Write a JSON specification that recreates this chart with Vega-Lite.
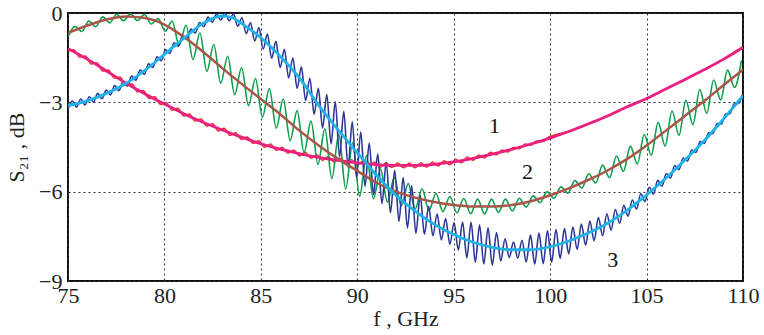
{
"$schema":"https://vega.github.io/schema/vega-lite/v6.json",
"width":675,"height":268,
"autosize":{"type":"none"},
"padding":{"left":68,"top":13,"right":21,"bottom":54},
"background":"white",
"config":{"view":{"stroke":"#111","strokeWidth":2}},
"datasets":{
"red":[{"f":75.0,"v":-1.28},{"f":75.3,"v":-1.23},{"f":75.6,"v":-1.49},{"f":75.9,"v":-1.44},{"f":76.2,"v":-1.71},{"f":76.5,"v":-1.67},{"f":76.8,"v":-1.95},{"f":77.1,"v":-1.91},{"f":77.4,"v":-2.19},{"f":77.7,"v":-2.15},{"f":78.0,"v":-2.43},{"f":78.3,"v":-2.38},{"f":78.6,"v":-2.65},{"f":78.9,"v":-2.60},{"f":79.2,"v":-2.87},{"f":79.5,"v":-2.81},{"f":79.8,"v":-3.07},{"f":80.1,"v":-3.01},{"f":80.4,"v":-3.27},{"f":80.7,"v":-3.20},{"f":81.0,"v":-3.46},{"f":81.3,"v":-3.39},{"f":81.6,"v":-3.63},{"f":81.9,"v":-3.56},{"f":82.2,"v":-3.80},{"f":82.5,"v":-3.72},{"f":82.8,"v":-3.96},{"f":83.1,"v":-3.87},{"f":83.4,"v":-4.11},{"f":83.7,"v":-4.02},{"f":84.0,"v":-4.25},{"f":84.3,"v":-4.16},{"f":84.6,"v":-4.38},{"f":84.9,"v":-4.29},{"f":85.2,"v":-4.51},{"f":85.5,"v":-4.40},{"f":85.8,"v":-4.61},{"f":86.1,"v":-4.51},{"f":86.4,"v":-4.71},{"f":86.7,"v":-4.60},{"f":87.0,"v":-4.80},{"f":87.3,"v":-4.68},{"f":87.6,"v":-4.88},{"f":87.9,"v":-4.76},{"f":88.2,"v":-4.95},{"f":88.5,"v":-4.82},{"f":88.8,"v":-5.01},{"f":89.1,"v":-4.88},{"f":89.4,"v":-5.06},{"f":89.7,"v":-4.93},{"f":90.0,"v":-5.11},{"f":90.3,"v":-4.97},{"f":90.6,"v":-5.15},{"f":90.9,"v":-5.00},{"f":91.2,"v":-5.18},{"f":91.5,"v":-5.03},{"f":91.8,"v":-5.19},{"f":92.1,"v":-5.04},{"f":92.4,"v":-5.20},{"f":92.7,"v":-5.04},{"f":93.0,"v":-5.20},{"f":93.3,"v":-5.03},{"f":93.6,"v":-5.18},{"f":93.9,"v":-5.00},{"f":94.2,"v":-5.14},{"f":94.5,"v":-4.96},{"f":94.8,"v":-5.10},{"f":95.1,"v":-4.91},{"f":95.4,"v":-5.03},{"f":95.7,"v":-4.84},{"f":96.0,"v":-4.95},{"f":96.3,"v":-4.77},{"f":96.6,"v":-4.87},{"f":96.9,"v":-4.68},{"f":97.2,"v":-4.77},{"f":97.5,"v":-4.60},{"f":97.8,"v":-4.67},{"f":98.1,"v":-4.51},{"f":98.4,"v":-4.56},{"f":98.7,"v":-4.40},{"f":99.0,"v":-4.44},{"f":99.3,"v":-4.30},{"f":99.6,"v":-4.32},{"f":99.9,"v":-4.18},{"f":101,"v":-3.97},{"f":102,"v":-3.72},{"f":103,"v":-3.45},{"f":104,"v":-3.15},{"f":105,"v":-2.87},{"f":106,"v":-2.55},{"f":107,"v":-2.23},{"f":108,"v":-1.90},{"f":109,"v":-1.55},{"f":110,"v":-1.15}],
"green":[{"f":75.00,"v":-0.80},{"f":75.36,"v":-0.45},{"f":75.72,"v":-0.62},{"f":76.08,"v":-0.27},{"f":76.44,"v":-0.46},{"f":76.80,"v":-0.13},{"f":77.16,"v":-0.33},{"f":77.52,"v":-0.04},{"f":77.88,"v":-0.26},{"f":78.24,"v":-0.03},{"f":78.60,"v":-0.25},{"f":78.96,"v":-0.05},{"f":79.32,"v":-0.37},{"f":79.68,"v":-0.19},{"f":80.04,"v":-0.61},{"f":80.40,"v":-0.27},{"f":80.76,"v":-1.08},{"f":81.12,"v":-0.41},{"f":81.48,"v":-1.56},{"f":81.84,"v":-0.67},{"f":82.20,"v":-1.96},{"f":82.56,"v":-1.06},{"f":82.92,"v":-2.36},{"f":83.28,"v":-1.45},{"f":83.64,"v":-2.74},{"f":84.00,"v":-1.83},{"f":84.36,"v":-3.11},{"f":84.72,"v":-2.20},{"f":85.08,"v":-3.50},{"f":85.44,"v":-2.54},{"f":85.80,"v":-3.87},{"f":86.16,"v":-2.89},{"f":86.52,"v":-4.29},{"f":86.88,"v":-3.28},{"f":87.24,"v":-4.69},{"f":87.60,"v":-3.63},{"f":87.96,"v":-5.08},{"f":88.32,"v":-3.89},{"f":88.68,"v":-5.56},{"f":89.04,"v":-4.07},{"f":89.40,"v":-5.91},{"f":89.76,"v":-4.35},{"f":90.12,"v":-6.15},{"f":90.48,"v":-4.79},{"f":90.84,"v":-6.24},{"f":91.20,"v":-5.24},{"f":91.56,"v":-6.35},{"f":91.92,"v":-5.53},{"f":92.28,"v":-6.48},{"f":92.64,"v":-5.73},{"f":93.00,"v":-6.58},{"f":93.36,"v":-5.90},{"f":93.72,"v":-6.63},{"f":94.08,"v":-6.06},{"f":94.44,"v":-6.67},{"f":94.80,"v":-6.16},{"f":95.16,"v":-6.71},{"f":95.52,"v":-6.23},{"f":95.88,"v":-6.74},{"f":96.24,"v":-6.25},{"f":96.60,"v":-6.75},{"f":96.96,"v":-6.25},{"f":97.32,"v":-6.70},{"f":97.68,"v":-6.25},{"f":98.04,"v":-6.65},{"f":98.40,"v":-6.22},{"f":98.76,"v":-6.52},{"f":99.12,"v":-6.14},{"f":99.48,"v":-6.37},{"f":99.84,"v":-6.00},{"f":100.20,"v":-6.22},{"f":100.56,"v":-5.84},{"f":100.92,"v":-6.05},{"f":101.28,"v":-5.63},{"f":101.64,"v":-5.88},{"f":102.00,"v":-5.40},{"f":102.36,"v":-5.71},{"f":102.72,"v":-5.11},{"f":103.08,"v":-5.53},{"f":103.44,"v":-4.80},{"f":103.80,"v":-5.32},{"f":104.16,"v":-4.47},{"f":104.52,"v":-5.07},{"f":104.88,"v":-4.08},{"f":105.24,"v":-4.78},{"f":105.60,"v":-3.67},{"f":105.96,"v":-4.47},{"f":106.32,"v":-3.29},{"f":106.68,"v":-4.11},{"f":107.04,"v":-2.93},{"f":107.40,"v":-3.75},{"f":107.76,"v":-2.57},{"f":108.12,"v":-3.37},{"f":108.48,"v":-2.25},{"f":108.84,"v":-2.92},{"f":109.20,"v":-1.92},{"f":109.56,"v":-2.50},{"f":109.92,"v":-1.59}],
"blue":[{"f":75.00,"v":-3.23},{"f":75.22,"v":-2.96},{"f":75.44,"v":-3.16},{"f":75.66,"v":-2.89},{"f":75.88,"v":-3.09},{"f":76.10,"v":-2.81},{"f":76.32,"v":-2.99},{"f":76.54,"v":-2.70},{"f":76.76,"v":-2.88},{"f":76.98,"v":-2.59},{"f":77.20,"v":-2.75},{"f":77.42,"v":-2.44},{"f":77.64,"v":-2.61},{"f":77.86,"v":-2.30},{"f":78.08,"v":-2.45},{"f":78.30,"v":-2.12},{"f":78.52,"v":-2.26},{"f":78.74,"v":-1.92},{"f":78.96,"v":-2.06},{"f":79.18,"v":-1.71},{"f":79.40,"v":-1.83},{"f":79.62,"v":-1.47},{"f":79.84,"v":-1.60},{"f":80.06,"v":-1.24},{"f":80.28,"v":-1.36},{"f":80.50,"v":-1.00},{"f":80.72,"v":-1.12},{"f":80.94,"v":-0.76},{"f":81.16,"v":-0.89},{"f":81.38,"v":-0.54},{"f":81.60,"v":-0.67},{"f":81.82,"v":-0.32},{"f":82.04,"v":-0.46},{"f":82.26,"v":-0.14},{"f":82.48,"v":-0.31},{"f":82.70,"v":-0.03},{"f":82.92,"v":-0.23},{"f":83.14,"v":-0.01},{"f":83.36,"v":-0.26},{"f":83.58,"v":-0.03},{"f":83.80,"v":-0.45},{"f":84.02,"v":-0.16},{"f":84.24,"v":-0.69},{"f":84.46,"v":-0.33},{"f":84.68,"v":-0.94},{"f":84.90,"v":-0.49},{"f":85.12,"v":-1.21},{"f":85.34,"v":-0.71},{"f":85.56,"v":-1.52},{"f":85.78,"v":-0.95},{"f":86.00,"v":-1.83},{"f":86.22,"v":-1.22},{"f":86.44,"v":-2.18},{"f":86.66,"v":-1.51},{"f":86.88,"v":-2.53},{"f":87.10,"v":-1.81},{"f":87.32,"v":-2.94},{"f":87.54,"v":-2.19},{"f":87.76,"v":-3.40},{"f":87.98,"v":-2.53},{"f":88.20,"v":-3.86},{"f":88.42,"v":-2.74},{"f":88.64,"v":-4.40},{"f":88.86,"v":-2.98},{"f":89.08,"v":-4.83},{"f":89.30,"v":-3.30},{"f":89.52,"v":-5.18},{"f":89.74,"v":-3.65},{"f":89.96,"v":-5.52},{"f":90.18,"v":-4.00},{"f":90.40,"v":-5.82},{"f":90.62,"v":-4.37},{"f":90.84,"v":-6.10},{"f":91.06,"v":-4.74},{"f":91.28,"v":-6.40},{"f":91.50,"v":-5.02},{"f":91.72,"v":-6.71},{"f":91.94,"v":-5.28},{"f":92.16,"v":-7.00},{"f":92.38,"v":-5.53},{"f":92.60,"v":-7.22},{"f":92.82,"v":-5.80},{"f":93.04,"v":-7.40},{"f":93.26,"v":-6.12},{"f":93.48,"v":-7.43},{"f":93.70,"v":-6.49},{"f":93.92,"v":-7.48},{"f":94.14,"v":-6.75},{"f":94.36,"v":-7.62},{"f":94.58,"v":-6.90},{"f":94.80,"v":-7.77},{"f":95.02,"v":-7.04},{"f":95.24,"v":-7.96},{"f":95.46,"v":-7.02},{"f":95.68,"v":-8.22},{"f":95.90,"v":-7.03},{"f":96.12,"v":-8.37},{"f":96.34,"v":-7.12},{"f":96.56,"v":-8.43},{"f":96.78,"v":-7.21},{"f":97.00,"v":-8.47},{"f":97.22,"v":-7.37},{"f":97.44,"v":-8.33},{"f":97.66,"v":-7.58},{"f":97.88,"v":-8.21},{"f":98.10,"v":-7.69},{"f":98.32,"v":-8.23},{"f":98.54,"v":-7.63},{"f":98.76,"v":-8.36},{"f":98.98,"v":-7.45},{"f":99.20,"v":-8.44},{"f":99.42,"v":-7.39},{"f":99.64,"v":-8.42},{"f":99.86,"v":-7.31},{"f":100.08,"v":-8.37},{"f":100.30,"v":-7.27},{"f":100.52,"v":-8.24},{"f":100.74,"v":-7.24},{"f":100.96,"v":-8.09},{"f":101.18,"v":-7.19},{"f":101.40,"v":-7.94},{"f":101.62,"v":-7.09},{"f":101.84,"v":-7.80},{"f":102.06,"v":-6.99},{"f":102.28,"v":-7.65},{"f":102.50,"v":-6.87},{"f":102.72,"v":-7.48},{"f":102.94,"v":-6.74},{"f":103.16,"v":-7.29},{"f":103.38,"v":-6.60},{"f":103.60,"v":-7.06},{"f":103.82,"v":-6.46},{"f":104.04,"v":-6.82},{"f":104.26,"v":-6.28},{"f":104.48,"v":-6.58},{"f":104.70,"v":-6.07},{"f":104.92,"v":-6.33},{"f":105.14,"v":-5.85},{"f":105.36,"v":-6.08},{"f":105.58,"v":-5.62},{"f":105.80,"v":-5.82},{"f":106.02,"v":-5.39},{"f":106.24,"v":-5.54},{"f":106.46,"v":-5.12},{"f":106.68,"v":-5.26},{"f":106.90,"v":-4.87},{"f":107.12,"v":-4.97},{"f":107.34,"v":-4.60},{"f":107.56,"v":-4.68},{"f":107.78,"v":-4.32},{"f":108.00,"v":-4.38},{"f":108.22,"v":-4.02},{"f":108.44,"v":-4.05},{"f":108.66,"v":-3.71},{"f":108.88,"v":-3.73},{"f":109.10,"v":-3.39},{"f":109.32,"v":-3.38},{"f":109.54,"v":-3.05},{"f":109.76,"v":-3.04},{"f":109.98,"v":-2.72}],
"pink":[{"f":75,"v":-1.20},{"f":76,"v":-1.55},{"f":77,"v":-1.95},{"f":78,"v":-2.35},{"f":79,"v":-2.72},{"f":80,"v":-3.06},{"f":81,"v":-3.38},{"f":82,"v":-3.67},{"f":83,"v":-3.93},{"f":84,"v":-4.17},{"f":85,"v":-4.39},{"f":86,"v":-4.57},{"f":87,"v":-4.72},{"f":88,"v":-4.85},{"f":89,"v":-4.95},{"f":90,"v":-5.03},{"f":91,"v":-5.09},{"f":92,"v":-5.12},{"f":93,"v":-5.12},{"f":94,"v":-5.08},{"f":95,"v":-5.00},{"f":96,"v":-4.88},{"f":97,"v":-4.74},{"f":98,"v":-4.58},{"f":99,"v":-4.40},{"f":100,"v":-4.20},{"f":101,"v":-3.97},{"f":102,"v":-3.72},{"f":103,"v":-3.45},{"f":104,"v":-3.15},{"f":105,"v":-2.87},{"f":106,"v":-2.55},{"f":107,"v":-2.23},{"f":108,"v":-1.90},{"f":109,"v":-1.55},{"f":110,"v":-1.15}],
"brown":[{"f":75,"v":-0.67},{"f":76,"v":-0.42},{"f":77,"v":-0.22},{"f":78,"v":-0.12},{"f":79,"v":-0.17},{"f":80,"v":-0.39},{"f":81,"v":-0.80},{"f":82,"v":-1.30},{"f":83,"v":-1.85},{"f":84,"v":-2.38},{"f":85,"v":-2.89},{"f":86,"v":-3.40},{"f":87,"v":-3.95},{"f":88,"v":-4.45},{"f":89,"v":-4.90},{"f":90,"v":-5.30},{"f":91,"v":-5.70},{"f":92,"v":-6.00},{"f":93,"v":-6.20},{"f":94,"v":-6.35},{"f":95,"v":-6.45},{"f":96,"v":-6.50},{"f":97,"v":-6.50},{"f":98,"v":-6.45},{"f":99,"v":-6.32},{"f":100,"v":-6.12},{"f":101,"v":-5.88},{"f":102,"v":-5.60},{"f":103,"v":-5.28},{"f":104,"v":-4.90},{"f":105,"v":-4.45},{"f":106,"v":-3.95},{"f":107,"v":-3.45},{"f":108,"v":-2.95},{"f":109,"v":-2.42},{"f":110,"v":-1.90}],
"cyan":[{"f":75,"v":-3.11},{"f":76,"v":-2.95},{"f":77,"v":-2.70},{"f":78,"v":-2.37},{"f":79,"v":-1.92},{"f":80,"v":-1.39},{"f":81,"v":-0.85},{"f":82,"v":-0.35},{"f":82.5,"v":-0.18},{"f":83,"v":-0.10},{"f":83.5,"v":-0.15},{"f":84,"v":-0.35},{"f":85,"v":-0.83},{"f":86,"v":-1.45},{"f":87,"v":-2.18},{"f":88,"v":-3.10},{"f":89,"v":-3.92},{"f":90,"v":-4.70},{"f":91,"v":-5.45},{"f":92,"v":-6.12},{"f":93,"v":-6.65},{"f":94,"v":-7.10},{"f":95,"v":-7.44},{"f":96,"v":-7.70},{"f":97,"v":-7.87},{"f":98,"v":-7.95},{"f":99,"v":-7.95},{"f":100,"v":-7.85},{"f":101,"v":-7.65},{"f":102,"v":-7.38},{"f":103,"v":-7.05},{"f":104,"v":-6.62},{"f":105,"v":-6.11},{"f":106,"v":-5.55},{"f":107,"v":-4.93},{"f":108,"v":-4.28},{"f":109,"v":-3.55},{"f":110,"v":-2.78}],
"labels":[{"f":97.12,"v":-3.78,"t":"1"},{"f":98.83,"v":-5.34,"t":"2"},{"f":103.24,"v":-8.28,"t":"3"}]
},
"encoding":{
 "x":{"field":"f","type":"quantitative","scale":{"domain":[75,110],"nice":false,"zero":false},"axis":{"values":[75,80,85,90,95,100,105,110],"title":"f ,  GHz","labelFont":"Liberation Serif","titleFont":"Liberation Serif","labelFontSize":22,"titleFontSize":22,"titleFontWeight":"normal","labelColor":"#222","titleColor":"#222","domain":false,"ticks":false,"grid":true,"gridColor":"#333","gridDash":[2,3],"gridWidth":1,"gridOpacity":1,"labelPadding":4,"titlePadding":2,"labelFlush":false,"labelDx":2}},
 "y":{"field":"v","type":"quantitative","scale":{"domain":[-9,0],"nice":false,"zero":false},"axis":{"values":[-9,-6,-3,0],"title":"S₂₁ ,  dB","labelFont":"Liberation Serif","titleFont":"Liberation Serif","labelFontSize":22,"titleFontSize":22,"titleFontWeight":"normal","labelColor":"#222","titleColor":"#222","domain":false,"ticks":false,"grid":true,"gridColor":"#333","gridDash":[2,3],"gridWidth":1,"gridOpacity":1,"labelPadding":6,"titlePadding":10,"labelFlush":false}}
},
"layer":[
 {"data":{"name":"red"},"mark":{"type":"line","color":"#e8352a","strokeWidth":1.5,"interpolate":"monotone","clip":true}},
 {"data":{"name":"green"},"mark":{"type":"line","color":"#0c9e4a","strokeWidth":1.6,"interpolate":"monotone","clip":true}},
 {"data":{"name":"blue"},"mark":{"type":"line","color":"#2b3796","strokeWidth":1.6,"interpolate":"monotone","clip":true}},
 {"data":{"name":"pink"},"mark":{"type":"line","color":"#e9207f","strokeWidth":2.8,"interpolate":"monotone","clip":true}},
 {"data":{"name":"brown"},"mark":{"type":"line","color":"#a8554a","strokeWidth":2.5,"interpolate":"monotone","clip":true}},
 {"data":{"name":"cyan"},"mark":{"type":"line","color":"#1fb3e8","strokeWidth":2.8,"interpolate":"monotone","clip":true}},
 {"data":{"name":"labels"},"mark":{"type":"text","font":"Liberation Serif","fontSize":22,"color":"#111"},"encoding":{"text":{"field":"t"}}}
]
}
